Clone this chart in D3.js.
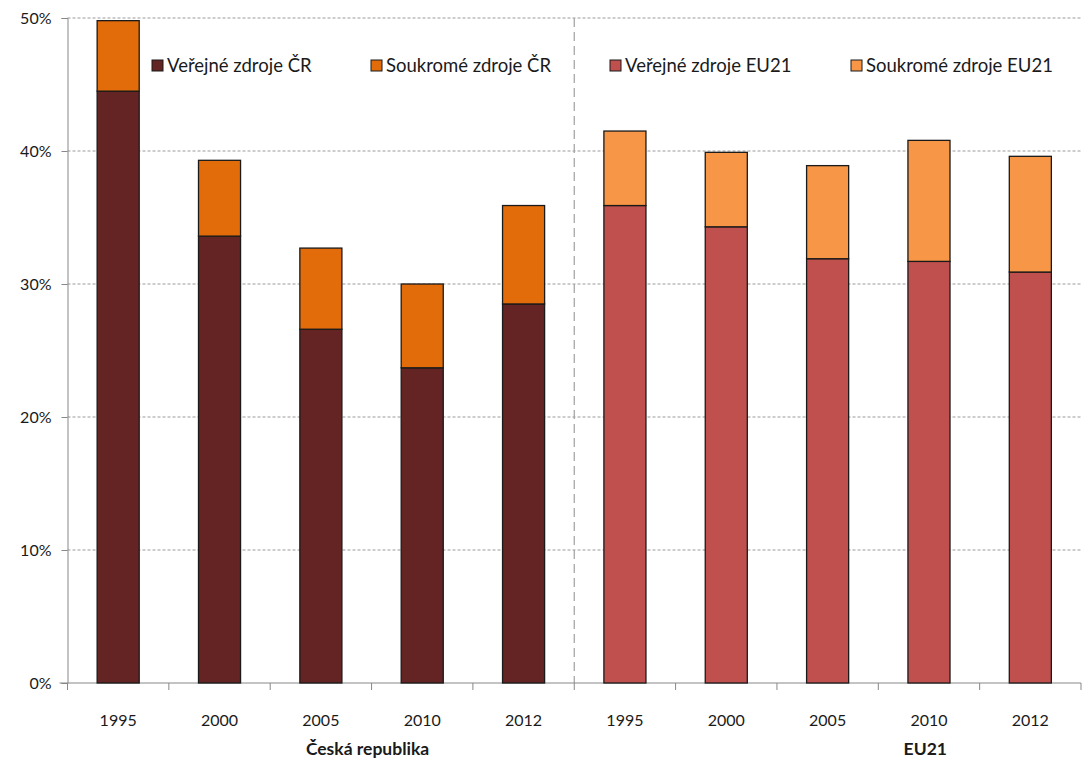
<!DOCTYPE html>
<html>
<head>
<meta charset="utf-8">
<script src="https://cdn.jsdelivr.net/npm/d3@7"></script>
<style>
    body { margin: 0; background: #fff; }
    svg text { font-family: Lato, "Open Sans", sans-serif; fill: #1a1a1a; }
</style>
</head>
<body>
<svg id="chart"></svg>
<script>
// Data (shares in %)
const years = ["1995", "2000", "2005", "2010", "2012"];
const groups = ["Česká republika", "EU21"];
const crPublic = [44.5, 33.6, 26.6, 23.7, 28.5];
const crPrivate = [5.3, 5.7, 6.1, 6.3, 7.4];
const euPublic = [35.9, 34.3, 31.9, 31.7, 30.9];
const euPrivate = [5.6, 5.6, 7.0, 9.1, 8.7];
const legendLabels = ["Veřejné zdroje ČR", "Soukromé zdroje ČR", "Veřejné zdroje EU21", "Soukromé zdroje EU21"];
const yTicks = [0, 10, 20, 30, 40, 50];

const colors = ["#632423", "#E36C0A", "#C0504D", "#F79646"];

const width = 1088;
const height = 761;
const margin = { top: 18, right: 7, bottom: 78, left: 67.5 };

const svg = d3.select("#chart")
    .attr("width", width)
    .attr("height", height);

// one row per slot
const rows = [];
years.forEach((yr, i) => rows.push({ key: "cr" + yr, year: yr, pub: crPublic[i], priv: crPrivate[i], g: 0 }));
years.forEach((yr, i) => rows.push({ key: "eu" + yr, year: yr, pub: euPublic[i], priv: euPrivate[i], g: 1 }));

const x = d3.scaleBand()
    .domain(rows.map(d => d.key))
    .range([margin.left, width - margin.right])
    .paddingInner(0.585)
    .paddingOuter(0.2925);

const xi = d3.scaleLinear()
    .domain([0, rows.length])
    .range([margin.left, width - margin.right]);

const y = d3.scaleLinear()
    .domain([0, 50])
    .range([height - margin.bottom, margin.top]);

// gridlines
svg.append("g")
    .selectAll("line")
    .data(yTicks.filter(t => t > 0))
    .join("line")
    .attr("x1", margin.left)
    .attr("x2", width - margin.right)
    .attr("y1", d => y(d))
    .attr("y2", d => y(d))
    .attr("stroke", "#9a9a9a")
    .attr("stroke-width", 1)
    .attr("stroke-dasharray", "3,2");

// separator
svg.append("line")
    .attr("x1", xi(5)).attr("x2", xi(5))
    .attr("y1", y(50)).attr("y2", y(0))
    .attr("stroke", "#a0a0a0")
    .attr("stroke-width", 1.2)
    .attr("stroke-dasharray", "9,5");

// y axis
const yAxis = svg.append("g")
    .attr("transform", `translate(${margin.left},0)`)
    .call(d3.axisLeft(y).tickValues(yTicks).tickSize(6).tickPadding(10).tickFormat(d => d + "%"));
yAxis.select(".domain").attr("stroke", "#888");
yAxis.selectAll(".tick line").attr("stroke", "#888");
yAxis.selectAll("text").style("font-size", "16px").attr("fill", "#1a1a1a");

// x axis
const xAxis = svg.append("g");
xAxis.append("line")
    .attr("x1", margin.left - 8)
    .attr("x2", width - margin.right)
    .attr("y1", y(0)).attr("y2", y(0))
    .attr("stroke", "#888");
xAxis.selectAll("line.tk")
    .data(d3.range(rows.length + 1))
    .join("line")
    .attr("class", "tk")
    .attr("x1", d => xi(d)).attr("x2", d => xi(d))
    .attr("y1", y(0)).attr("y2", y(0) + 7)
    .attr("stroke", "#888");
xAxis.selectAll("text.yr")
    .data(rows)
    .join("text")
    .attr("class", "yr")
    .attr("x", d => x(d.key) + x.bandwidth() / 2)
    .attr("y", y(0) + 43)
    .attr("text-anchor", "middle")
    .style("font-size", "16px")
    .text(d => d.year);

// group labels
svg.selectAll("text.grp")
    .data(groups)
    .join("text")
    .attr("class", "grp")
    .attr("x", (d, i) => xi(i * 5 + 3) - 4 + i * 51)
    .attr("y", y(0) + 72)
    .attr("text-anchor", "middle")
    .style("font-size", "17.5px")
    .style("font-weight", "bold")
    .text(d => d);

// bars
const barG = svg.append("g");
rows.forEach(d => {
    barG.append("rect")
        .attr("x", x(d.key))
        .attr("y", y(d.pub))
        .attr("width", x.bandwidth())
        .attr("height", y(0) - y(d.pub))
        .attr("fill", colors[d.g * 2])
        .attr("stroke", "#1a1a1a")
        .attr("stroke-width", 1.3);
    barG.append("rect")
        .attr("x", x(d.key))
        .attr("y", y(d.pub + d.priv))
        .attr("width", x.bandwidth())
        .attr("height", y(d.pub) - y(d.pub + d.priv))
        .attr("fill", colors[d.g * 2 + 1])
        .attr("stroke", "#1a1a1a")
        .attr("stroke-width", 1.3);
});

// legend
const legendX = [152, 371, 610, 851];
const legend = svg.selectAll("g.leg")
    .data(legendLabels)
    .join("g")
    .attr("class", "leg")
    .attr("transform", (d, i) => `translate(${legendX[i]},60)`);
legend.append("rect")
    .attr("width", 11)
    .attr("height", 11)
    .attr("fill", (d, i) => colors[i])
    .attr("stroke", "#1a1a1a")
    .attr("stroke-width", 1);
legend.append("text")
    .attr("x", 15)
    .attr("y", 11.5)
    .style("font-size", "18.5px")
    .text(d => d);
</script>
</body>
</html>
